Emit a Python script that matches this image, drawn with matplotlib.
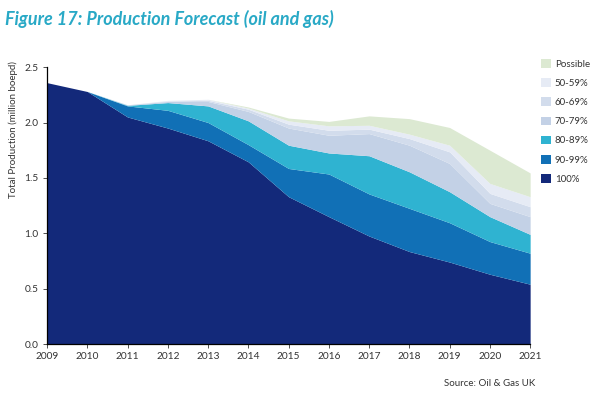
import matplotlib
matplotlib.use("Agg")
import matplotlib.pyplot as plt
from matplotlib.patches import Patch

plt.rcParams['font.family'] = ['Lato', 'DejaVu Sans']

years = [2009, 2010, 2011, 2012, 2013, 2014, 2015, 2016, 2017, 2018, 2019, 2020, 2021]

# top edge of each band (cumulative, million boepd)
top_100 = [2.36, 2.28, 2.05, 1.95, 1.835, 1.645, 1.33, 1.15, 0.975, 0.835, 0.74, 0.63, 0.54]
top_90_99 = [2.36, 2.28, 2.15, 2.11, 2.00, 1.80, 1.585, 1.535, 1.355, 1.225, 1.095, 0.925, 0.82]
top_80_89 = [2.36, 2.28, 2.155, 2.18, 2.15, 2.015, 1.795, 1.725, 1.70, 1.555, 1.375, 1.15, 0.99]
top_70_79 = [2.36, 2.28, 2.16, 2.19, 2.19, 2.10, 1.95, 1.885, 1.90, 1.795, 1.63, 1.27, 1.15]
top_60_69 = [2.36, 2.28, 2.16, 2.195, 2.20, 2.12, 1.985, 1.93, 1.94, 1.855, 1.735, 1.36, 1.24]
top_50_59 = [2.36, 2.28, 2.16, 2.20, 2.21, 2.13, 2.015, 1.97, 1.975, 1.895, 1.795, 1.45, 1.33]
top_possible = [2.36, 2.28, 2.16, 2.20, 2.21, 2.14, 2.04, 2.01, 2.06, 2.035, 1.955, 1.75, 1.545]

labels = ['100%', '90-99%', '80-89%', '70-79%', '60-69%', '50-59%', 'Possible']
tops = [top_100, top_90_99, top_80_89, top_70_79, top_60_69, top_50_59, top_possible]
colors = ['#13297a', '#1170b6', '#2fb3d1', '#c3d1e6', '#d2dcec', '#e6ebf5', '#dce9d2']

fig = plt.figure(figsize=(5.95, 4.17), dpi=100)
ax = fig.add_axes([0.079, 0.175, 0.812, 0.664])

lower = [0] * len(years)
for top, col in zip(tops, colors):
    ax.fill_between(years, lower, top, color=col, linewidth=0)
    lower = top

ax.set_xlim(2009, 2021)
ax.set_ylim(0, 2.5)
ax.set_xticks(years)
ax.set_yticks([0, 0.5, 1.0, 1.5, 2.0, 2.5])
ax.set_yticklabels(['0.0', '0.5', '1.0', '1.5', '2.0', '2.5'])
ax.tick_params(labelsize=7.3, colors='#333333', length=3, width=0.6, pad=3)
for side in ['top', 'right']:
    ax.spines[side].set_visible(False)
for side in ['left', 'bottom']:
    ax.spines[side].set_linewidth(0.9)
    ax.spines[side].set_color('black')

fig.text(0.022, 0.69, 'Total Production (million boepd)', rotation=90,
         ha='center', va='center', fontsize=7, color='#333333')

handles = [Patch(facecolor=c, edgecolor='none') for c in colors[::-1]]
ax.legend(handles, labels[::-1], loc='upper left', bbox_to_anchor=(1.005, 1.06),
          frameon=False, fontsize=7, handlelength=1.0, handleheight=1.0,
          handletextpad=0.4, labelspacing=0.97, labelcolor='#333333')

fig.text(0.008, 0.955, 'Figure 17: Production Forecast (oil and gas)', fontsize=13,
         fontweight='bold', fontstyle='italic', color='#29a9c6', va='center')
fig.text(0.9, 0.074, 'Source: Oil & Gas UK', fontsize=7, color='#333333', ha='right')

fig.savefig('out.png', dpi=100)
